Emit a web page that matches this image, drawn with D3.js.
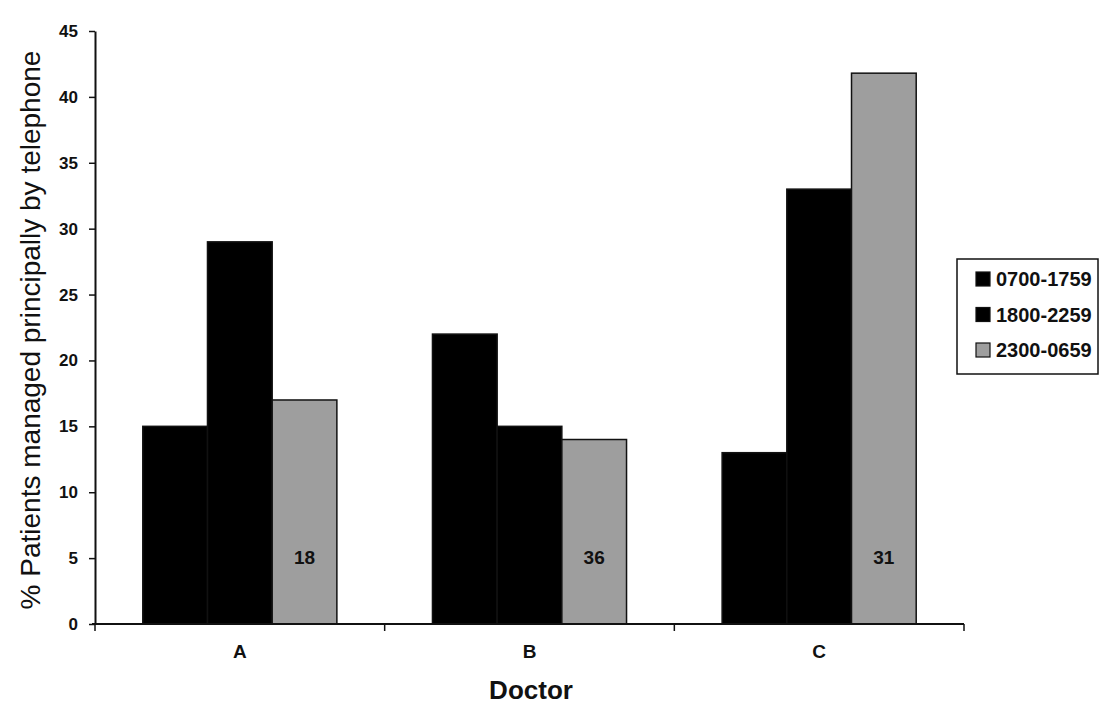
<!DOCTYPE html>
<html>
<head>
<meta charset="utf-8">
<script src="https://cdn.jsdelivr.net/npm/d3@7"></script>
<style>
  html, body { margin: 0; padding: 0; background: #fff; }
  svg { display: block; }
  text { font-family: "Liberation Sans", Arial, sans-serif; fill: #111; }
</style>
</head>
<body>
<svg id="chart" width="1102" height="709"></svg>
<script>
// Doctors on the x axis
const doctors = ["A", "B", "C"];
// Time-of-day periods (series)
const periods = ["0700-1759", "1800-2259", "2300-0659"];
// % patients managed principally by telephone, per doctor, per period
const shift0700 = [15, 22, 13];
const shift1800 = [29, 15, 33];
const shift2300 = [17, 14, 41.8];
// Counts printed inside the night-period bars
const nightCounts = [18, 36, 31];
// Y axis ticks
const yTicks = [0, 5, 10, 15, 20, 25, 30, 35, 40, 45];

const seriesValues = [shift0700, shift1800, shift2300];
const colours = ["#000000", "#000000", "#9e9e9e"];

const svg = d3.select("#chart");
const plot = { left: 95, right: 964, top: 31, bottom: 624 };

const x0 = d3.scaleBand()
  .domain(doctors)
  .range([plot.left, plot.right])
  .paddingInner(0.33)
  .paddingOuter(0.165);

const x1 = d3.scaleBand()
  .domain(periods)
  .range([0, x0.bandwidth()]);

const y = d3.scaleLinear()
  .domain([0, 45])
  .range([plot.bottom, plot.top]);

// Bars
const groups = svg.append("g")
  .selectAll("g")
  .data(doctors)
  .join("g")
  .attr("transform", d => `translate(${x0(d)},0)`);

groups.selectAll("rect")
  .data((d, i) => periods.map((p, s) => ({ period: p, s, value: seriesValues[s][i] })))
  .join("rect")
  .attr("x", d => x1(d.period))
  .attr("y", d => y(d.value))
  .attr("width", x1.bandwidth())
  .attr("height", d => y(0) - y(d.value))
  .attr("fill", d => colours[d.s])
  .attr("stroke", "#111")
  .attr("stroke-width", 1.5);

// Counts inside the grey bars
groups.append("text")
  .attr("x", x1(periods[2]) + x1.bandwidth() / 2)
  .attr("y", 557)
  .attr("dy", "0.35em")
  .attr("text-anchor", "middle")
  .style("font-size", "19px")
  .style("font-weight", "bold")
  .text((d, i) => nightCounts[i]);

// Y axis
const yAxis = svg.append("g")
  .attr("transform", `translate(${plot.left},0)`)
  .call(d3.axisLeft(y).tickValues(yTicks).tickSize(6).tickPadding(11).tickSizeOuter(0));
yAxis.select(".domain").attr("stroke", "#111").attr("stroke-width", 2);
yAxis.selectAll(".tick line").attr("stroke", "#111").attr("stroke-width", 1.5);
yAxis.selectAll(".tick text")
  .style("font-size", "17px")
  .style("font-weight", "bold")
  .style("font-family", "'Liberation Sans', Arial, sans-serif")
  .attr("fill", "#111");

// X axis: baseline, boundary ticks and category labels
const xAxis = svg.append("g")
  .attr("transform", `translate(0,${plot.bottom})`)
  .call(d3.axisBottom(x0).tickSize(0).tickPadding(20));
xAxis.select(".domain").attr("stroke", "#111").attr("stroke-width", 2)
  .attr("d", `M${plot.left - 3},0H${plot.right}`);
xAxis.selectAll(".tick text")
  .attr("y", 27)
  .attr("dy", "0.35em")
  .style("font-size", "19px")
  .style("font-weight", "bold")
  .style("font-family", "'Liberation Sans', Arial, sans-serif")
  .attr("fill", "#111");

const boundaries = d3.range(doctors.length + 1).map(i => plot.left + i * x0.step());
xAxis.selectAll("line.boundary")
  .data(boundaries)
  .join("line")
  .attr("class", "boundary")
  .attr("x1", d => d).attr("x2", d => d)
  .attr("y1", 0).attr("y2", 7)
  .attr("stroke", "#111").attr("stroke-width", 1.5);

// Axis titles
svg.append("text")
  .attr("transform", "translate(30,330) rotate(-90)")
  .attr("text-anchor", "middle")
  .attr("dy", "0.35em")
  .style("font-size", "28px")
  .text("% Patients managed principally by telephone");

svg.append("text")
  .attr("x", 531)
  .attr("y", 690)
  .attr("text-anchor", "middle")
  .attr("dy", "0.35em")
  .style("font-size", "26px")
  .style("font-weight", "bold")
  .text("Doctor");

// Legend
const legend = svg.append("g").attr("transform", "translate(957,259)");
legend.append("rect")
  .attr("width", 141).attr("height", 115)
  .attr("fill", "#fff").attr("stroke", "#111").attr("stroke-width", 1.5);
const rows = legend.selectAll("g.row")
  .data(periods)
  .join("g")
  .attr("class", "row")
  .attr("transform", (d, i) => `translate(19,${20 + i * 35.5})`);
rows.append("rect")
  .attr("x", 0).attr("y", -7)
  .attr("width", 14).attr("height", 14)
  .attr("fill", (d, i) => colours[i])
  .attr("stroke", "#111").attr("stroke-width", 1.2);
rows.append("text")
  .attr("x", 20)
  .attr("dy", "0.35em")
  .style("font-size", "20px")
  .style("font-weight", "bold")
  .text(d => d);
</script>
</body>
</html>
